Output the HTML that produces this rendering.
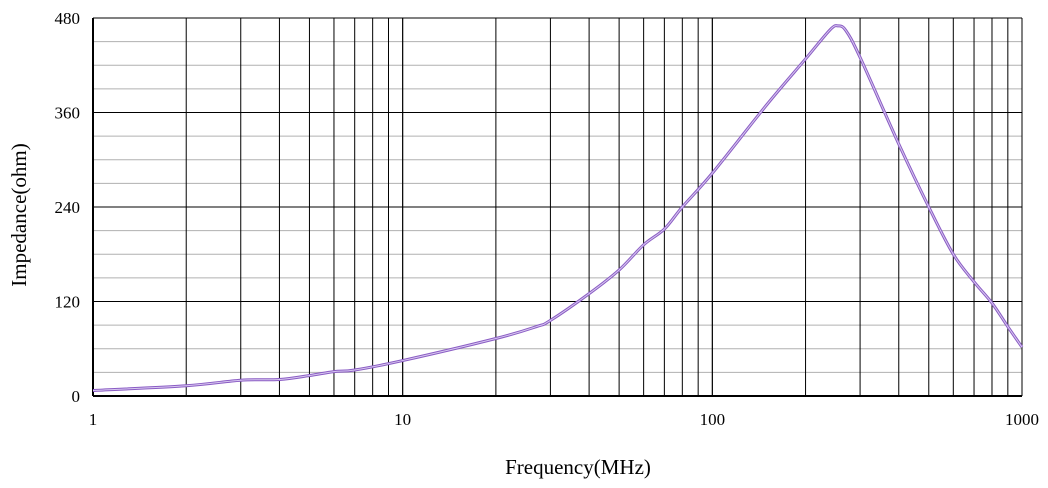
<!DOCTYPE html>
<html><head><meta charset="utf-8"><style>
body{margin:0;background:#fff}
svg text{font-family:"Liberation Serif","Noto Serif CJK SC",serif;fill:#000}
</style></head><body>
<svg width="1048" height="483" id="c"></svg>
<script>
const freqs=[1,2,3,4,5,6,7,10,20,27,30,40,50,60,70,80,100,150,200,240,255,270,300,400,500,600,700,800,900,1000];
const imped=[7,13,20,21,26,31,33,45,73,88,96,130,160,192,212,240,283,370,428,465,470,464,430,320,240,180,145,118,88,62];
const yTicks=[0,120,240,360,480];
const xTickLabels=[1,10,100,1000];
const X0=93,X1=1022,Y0=396,Y1=18;
const sx=f=>X0+(Math.log10(f))/3*(X1-X0);
const sy=v=>Y0-v/480*(Y0-Y1);
const svg=document.getElementById('c');const NS='http://www.w3.org/2000/svg';
function mk(t,a,p){const e=document.createElementNS(NS,t);for(const k in a)e.setAttribute(k,a[k]);(p||svg).appendChild(e);return e;}
for(let v=30;v<480;v+=30){if(v%120){const l=mk('line',{x1:X0,x2:X1,y1:sy(v),y2:sy(v),stroke:'#b0b0b0','stroke-width':1});

}}
yTicks.forEach(v=>{const l=mk('line',{x1:X0,x2:X1,y1:sy(v),y2:sy(v),stroke:'#000','stroke-width':v?1:2});


const t=mk('text',{x:80,y:sy(v)+6,'text-anchor':'end','font-size':17});t.textContent=v;

});
for(let d=0;d<3;d++)for(let m=1;m<=10;m++){const f=Math.pow(10,d)*m;const l=mk('line',{x1:sx(f),x2:sx(f),y1:Y1,y2:Y0,stroke:'#000','stroke-width':(f===1)?2:1});

}
xTickLabels.forEach(f=>{const t=mk('text',{x:sx(f),y:425,'text-anchor':'middle','font-size':17});t.textContent=f;

});
const pts=freqs.map((f,i)=>[sx(f),sy(imped[i])]);
let d='M'+pts[0][0]+','+pts[0][1];
for(let i=0;i<pts.length-1;i++){const p0=pts[i-1]||pts[i],p1=pts[i],p2=pts[i+1],p3=pts[i+2]||p2;
d+=` C${p1[0]+(p2[0]-p0[0])/6},${p1[1]+(p2[1]-p0[1])/6} ${p2[0]-(p3[0]-p1[0])/6},${p2[1]-(p3[1]-p1[1])/6} ${p2[0]},${p2[1]}`;}
const a=mk('path',{d,fill:'none',stroke:'#8a5cc4','stroke-width':3});


const b=mk('path',{d,fill:'none',stroke:'#d8c8f0','stroke-width':1});


const xt=mk('text',{x:578,y:474,'text-anchor':'middle','font-size':21});xt.textContent='Frequency(MHz)';


const yt=mk('text',{x:0,y:0,'text-anchor':'middle','font-size':21,transform:'translate(26,215) rotate(-90)'});yt.textContent='Impedance(ohm)';


</script>
</body></html>
